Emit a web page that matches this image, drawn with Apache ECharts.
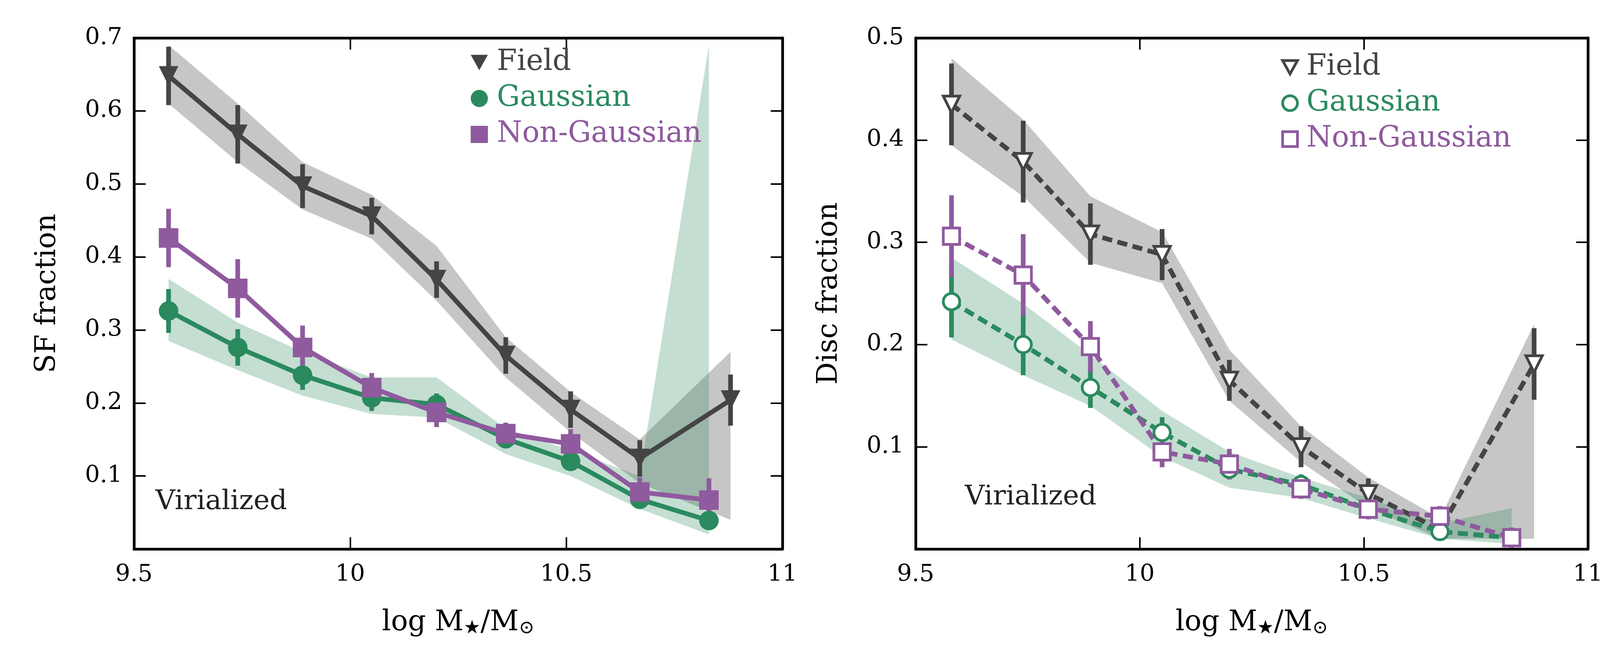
<!DOCTYPE html>
<html>
<head>
<meta charset="UTF-8">
<script src="https://cdn.jsdelivr.net/npm/echarts@6/dist/echarts.min.js"></script>
</head>
<body style="margin:0">
<div id="chart" style="width:4170px;height:1707px;"></div>
<script>
// masses
var massX = [9.58, 9.74, 9.89, 10.05, 10.2, 10.36, 10.51, 10.67, 10.83];
var fieldX = [9.58, 9.74, 9.89, 10.05, 10.2, 10.36, 10.51, 10.67, 10.88];

// left: SF fraction
var sfField = [0.648, 0.568, 0.497, 0.456, 0.369, 0.265, 0.191, 0.124, 0.204];
var sfFieldErr = [0.04, 0.04, 0.03, 0.025, 0.025, 0.025, 0.025, 0.025, 0.035];
var sfFieldHi = [0.69, 0.61, 0.53, 0.485, 0.415, 0.29, 0.215, 0.15, 0.27];
var sfFieldLo = [0.61, 0.53, 0.465, 0.425, 0.34, 0.235, 0.16, 0.09, 0.04];
var sfGauss = [0.326, 0.276, 0.238, 0.207, 0.198, 0.151, 0.12, 0.068, 0.039];
var sfGaussErr = [0.03, 0.025, 0.02, 0.018, 0.015, 0.012, 0.012, 0.01, 0.01];
var sfGaussHi = [0.37, 0.31, 0.27, 0.235, 0.235, 0.165, 0.135, 0.1, 0.69];
var sfGaussLo = [0.285, 0.245, 0.21, 0.185, 0.18, 0.13, 0.1, 0.055, 0.02];
var sfNon = [0.426, 0.357, 0.276, 0.221, 0.187, 0.158, 0.144, 0.078, 0.067];
var sfNonErr = [0.04, 0.04, 0.03, 0.02, 0.02, 0.015, 0.02, 0.02, 0.03];

// right: Disc fraction
var dField = [0.435, 0.379, 0.308, 0.288, 0.165, 0.1, 0.054, 0.019, 0.181];
var dFieldErr = [0.04, 0.04, 0.03, 0.025, 0.02, 0.02, 0.015, 0.01, 0.035];
var dFieldHi = [0.48, 0.42, 0.345, 0.31, 0.195, 0.12, 0.07, 0.03, 0.22];
var dFieldLo = [0.395, 0.345, 0.28, 0.26, 0.145, 0.085, 0.04, 0.01, 0.01];
var dGauss = [0.242, 0.2, 0.158, 0.114, 0.078, 0.063, 0.039, 0.017, 0.011];
var dGaussErr = [0.035, 0.03, 0.02, 0.015, 0.01, 0.01, 0.008, 0.006, 0.006];
var dGaussHi = [0.285, 0.24, 0.19, 0.135, 0.095, 0.07, 0.05, 0.025, 0.04];
var dGaussLo = [0.205, 0.17, 0.14, 0.09, 0.06, 0.05, 0.03, 0.01, 0.005];
var dNon = [0.306, 0.268, 0.198, 0.095, 0.083, 0.059, 0.039, 0.032, 0.011];
var dNonErr = [0.04, 0.04, 0.025, 0.015, 0.015, 0.01, 0.01, 0.01, 0.01];

var cGray = '#444444', cGreen = '#2a8a5e', cPurple = '#8f5a9e';
var font = 'DejaVu Serif';

function pairs(xs, ys) { return xs.map(function (x, i) { return [x, ys[i]]; }); }

function band(idx, xs, hi, lo, color) {
  return {
    type: 'custom', xAxisIndex: idx, yAxisIndex: idx, silent: true, z: 1,
    data: [0],
    renderItem: function (params, api) {
      var pts = [];
      for (var i = 0; i < xs.length; i++) pts.push(api.coord([xs[i], hi[i]]));
      for (var j = xs.length - 1; j >= 0; j--) pts.push(api.coord([xs[j], lo[j]]));
      return { type: 'polygon', shape: { points: pts }, style: { fill: color } };
    }
  };
}

function errbars(idx, xs, ys, err, color) {
  return {
    type: 'custom', xAxisIndex: idx, yAxisIndex: idx, silent: true, z: 3,
    data: xs.map(function (x, i) { return [x, ys[i] - err[i], ys[i] + err[i]]; }),
    renderItem: function (params, api) {
      var a = api.coord([api.value(0), api.value(1)]);
      var b = api.coord([api.value(0), api.value(2)]);
      return { type: 'line', shape: { x1: a[0], y1: a[1], x2: b[0], y2: b[1] }, style: { stroke: color, lineWidth: 12 } };
    }
  };
}

function line(idx, name, xs, ys, color, symbol, rot, dashed, open) {
  return {
    type: 'line', name: name, xAxisIndex: idx, yAxisIndex: idx, z: 4,
    data: pairs(xs, ys), symbol: symbol, symbolRotate: rot, symbolSize: open ? 42 : 50,
    lineStyle: { color: color, width: 12, type: dashed ? [26, 14] : 'solid' },
    itemStyle: open ? { color: '#fff', borderColor: color, borderWidth: 7 } : { color: color },
    animation: false
  };
}

var grids = [
  { left: 343, top: 97, width: 1660, height: 1308 },
  { left: 2344, top: 97, width: 1721, height: 1308 }
];

function xAx(idx, pos, lab) {
  return {
    type: 'value', gridIndex: idx, min: 9.5, max: 11, interval: 0.5, position: pos,
    axisLine: { show: true, onZero: false, lineStyle: { color: '#000', width: 7 } },
    axisTick: { show: true, inside: true, length: 30, lineStyle: { width: 4, color: '#000' } },
    axisLabel: { show: lab, fontFamily: font, fontSize: 60, color: '#000', margin: 36 },
    splitLine: { show: false },
    name: lab ? '{n|log M}{s|\u2605}{n|/M}{s|\u2299}' : '', nameLocation: 'middle', nameGap: 150,
    nameTextStyle: { fontFamily: font, fontSize: 72, color: '#000',
      rich: { n: { fontFamily: font, fontSize: 72 }, s: { fontFamily: font, fontSize: 48, padding: [30, 0, 0, 0] } } }
  };
}
function yAx(idx, pos, lab, max, name) {
  return {
    type: 'value', gridIndex: idx, min: 0, max: max, interval: 0.1, position: pos,
    axisLine: { show: true, onZero: false, lineStyle: { color: '#000', width: 7 } },
    axisTick: { show: true, inside: true, length: 30, lineStyle: { width: 4, color: '#000' } },
    axisLabel: { show: lab, fontFamily: font, fontSize: 60, color: '#000', margin: 30,
      formatter: function (v) { return v === 0 ? '' : v.toFixed(1); } },
    splitLine: { show: false },
    name: lab ? name : '', nameLocation: 'middle', nameGap: 185,
    nameTextStyle: { fontFamily: font, fontSize: 72, color: '#000' }
  };
}

var legendText = { fontFamily: font, fontSize: 74, padding: [0, 0, 0, 18] };
var downTri = 'path://M0,0 L10,0 L5,9 Z';
var option = {
  animation: false,
  backgroundColor: '#fff',
  grid: grids,
  xAxis: [xAx(0, 'bottom', true), xAx(1, 'bottom', true), xAx(0, 'top', false), xAx(1, 'top', false)],
  yAxis: [yAx(0, 'left', true, 0.7, 'SF fraction'), yAx(1, 'left', true, 0.5, 'Disc fraction'),
    yAx(0, 'right', false, 0.7), yAx(1, 'right', false, 0.5)],
  legend: [
    { left: 1200, top: 118, orient: 'vertical', itemGap: 18, itemWidth: 44, itemHeight: 44,
      data: [
        { name: 'Field', icon: downTri, itemStyle: { color: cGray }, textStyle: { color: cGray } },
        { name: 'Gaussian', icon: 'circle', itemStyle: { color: cGreen }, textStyle: { color: cGreen } },
        { name: 'Non-Gaussian', icon: 'rect', itemStyle: { color: cPurple }, textStyle: { color: cPurple } }
      ], textStyle: legendText, selectedMode: false },
    { left: 3275, top: 130, orient: 'vertical', itemGap: 18, itemWidth: 38, itemHeight: 38,
      data: [
        { name: 'Field ', icon: downTri, itemStyle: { color: '#fff', borderColor: cGray, borderWidth: 7 }, textStyle: { color: cGray } },
        { name: 'Gaussian ', icon: 'circle', itemStyle: { color: '#fff', borderColor: cGreen, borderWidth: 7 }, textStyle: { color: cGreen } },
        { name: 'Non-Gaussian ', icon: 'rect', itemStyle: { color: '#fff', borderColor: cPurple, borderWidth: 7 }, textStyle: { color: cPurple } }
      ], textStyle: legendText, selectedMode: false }
  ],
  graphic: [
    { type: 'text', left: 398, top: 1250, style: { text: 'Virialized', font: '70px "DejaVu Serif"', fill: '#222' } },
    { type: 'text', left: 2470, top: 1238, style: { text: 'Virialized', font: '70px "DejaVu Serif"', fill: '#222' } }
  ],
  series: [
    band(0, fieldX, sfFieldHi, sfFieldLo, 'rgba(120,120,120,0.42)'),
    band(0, massX, sfGaussHi, sfGaussLo, 'rgba(42,138,94,0.28)'),
    errbars(0, fieldX, sfField, sfFieldErr, cGray),
    errbars(0, massX, sfGauss, sfGaussErr, cGreen),
    errbars(0, massX, sfNon, sfNonErr, cPurple),
    line(0, 'Field', fieldX, sfField, cGray, 'triangle', 180, false, false),
    line(0, 'Gaussian', massX, sfGauss, cGreen, 'circle', 0, false, false),
    line(0, 'Non-Gaussian', massX, sfNon, cPurple, 'rect', 0, false, false),

    band(1, fieldX, dFieldHi, dFieldLo, 'rgba(120,120,120,0.42)'),
    band(1, massX, dGaussHi, dGaussLo, 'rgba(42,138,94,0.28)'),
    errbars(1, fieldX, dField, dFieldErr, cGray),
    errbars(1, massX, dGauss, dGaussErr, cGreen),
    errbars(1, massX, dNon, dNonErr, cPurple),
    line(1, 'Field ', fieldX, dField, cGray, 'triangle', 180, true, true),
    line(1, 'Gaussian ', massX, dGauss, cGreen, 'circle', 0, true, true),
    line(1, 'Non-Gaussian ', massX, dNon, cPurple, 'rect', 0, true, true)
  ]
};
echarts.init(document.getElementById('chart')).setOption(option);
</script>
</body>
</html>
